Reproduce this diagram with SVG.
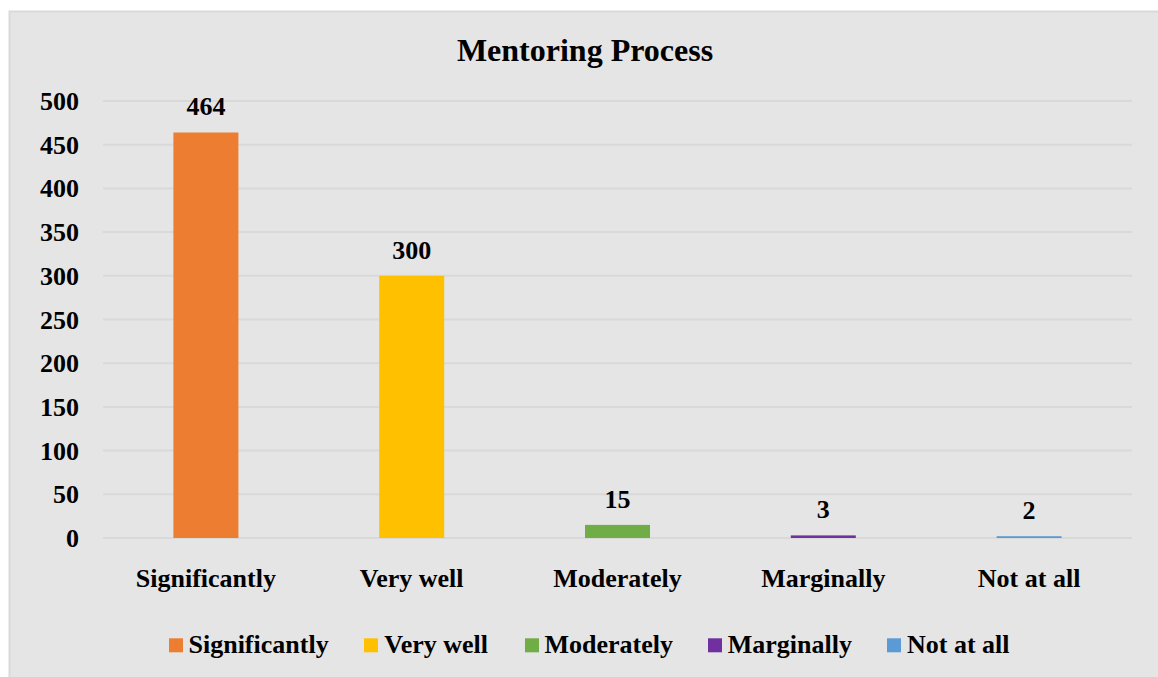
<svg xmlns="http://www.w3.org/2000/svg" width="1158" height="677" viewBox="0 0 1158 677">
<style>
text{font-family:"Liberation Serif","Times New Roman",serif;font-weight:bold;fill:#000}
.t{font-size:32px;text-anchor:middle}
.a{font-size:26px}
.y{text-anchor:end}
.c{text-anchor:middle}
.g{stroke:#d9d9d9;stroke-width:2}
</style>
<rect x="0" y="0" width="1158" height="677" fill="#ffffff"/>
<rect x="9.5" y="11.5" width="1160" height="680" fill="#e5e5e5" stroke="#d9d9d9" stroke-width="2"/>
<text class="t" x="585" y="61">Mentoring Process</text>
<g id="grid">
<line class="g" x1="103" y1="101" x2="1132" y2="101"/>
<line class="g" x1="103" y1="144.7" x2="1132" y2="144.7"/>
<line class="g" x1="103" y1="188.4" x2="1132" y2="188.4"/>
<line class="g" x1="103" y1="232.1" x2="1132" y2="232.1"/>
<line class="g" x1="103" y1="275.8" x2="1132" y2="275.8"/>
<line class="g" x1="103" y1="319.5" x2="1132" y2="319.5"/>
<line class="g" x1="103" y1="363.2" x2="1132" y2="363.2"/>
<line class="g" x1="103" y1="406.9" x2="1132" y2="406.9"/>
<line class="g" x1="103" y1="450.6" x2="1132" y2="450.6"/>
<line class="g" x1="103" y1="494.3" x2="1132" y2="494.3"/>
<line class="g" x1="103" y1="538" x2="1132" y2="538"/>
</g>
<g id="yaxis" class="a">
<text class="a y" x="79" y="110">500</text>
<text class="a y" x="79" y="153.7">450</text>
<text class="a y" x="79" y="197.4">400</text>
<text class="a y" x="79" y="241.1">350</text>
<text class="a y" x="79" y="284.8">300</text>
<text class="a y" x="79" y="328.5">250</text>
<text class="a y" x="79" y="372.2">200</text>
<text class="a y" x="79" y="415.9">150</text>
<text class="a y" x="79" y="459.6">100</text>
<text class="a y" x="79" y="503.3">50</text>
<text class="a y" x="79" y="547">0</text>
</g>
<g id="bar-significantly">
<rect x="173.4" y="132.5" width="65" height="405.5" fill="#ed7d31"/>
<text class="a c" x="205.9" y="115">464</text>
<text class="a c" x="205.9" y="587">Significantly</text>
</g>
<g id="bar-verywell">
<rect x="379.2" y="275.8" width="65" height="262.2" fill="#ffc000"/>
<text class="a c" x="411.7" y="258.5">300</text>
<text class="a c" x="411.7" y="587">Very well</text>
</g>
<g id="bar-moderately">
<rect x="585" y="524.9" width="65" height="13.1" fill="#70ad47"/>
<text class="a c" x="617.5" y="507.5">15</text>
<text class="a c" x="617.5" y="587">Moderately</text>
</g>
<g id="bar-marginally">
<rect x="790.8" y="535.4" width="65" height="2.6" fill="#7030a0"/>
<text class="a c" x="823.3" y="518">3</text>
<text class="a c" x="823.3" y="587">Marginally</text>
</g>
<g id="bar-notatall">
<rect x="996.6" y="536.2" width="65" height="1.8" fill="#5b9bd5"/>
<text class="a c" x="1029.1" y="519">2</text>
<text class="a c" x="1029.1" y="587">Not at all</text>
</g>
<g id="legend">
<rect x="169" y="638.3" width="14" height="14" fill="#ed7d31"/>
<text class="a" x="188.5" y="653">Significantly</text>
<rect x="364" y="638.3" width="14" height="14" fill="#ffc000"/>
<text class="a" x="384.3" y="653">Very well</text>
<rect x="525" y="638.3" width="14" height="14" fill="#70ad47"/>
<text class="a" x="544.5" y="653">Moderately</text>
<rect x="708" y="638.3" width="14" height="14" fill="#7030a0"/>
<text class="a" x="727.7" y="653">Marginally</text>
<rect x="887" y="638.3" width="14" height="14" fill="#5b9bd5"/>
<text class="a" x="907" y="653">Not at all</text>
</g>
</svg>
